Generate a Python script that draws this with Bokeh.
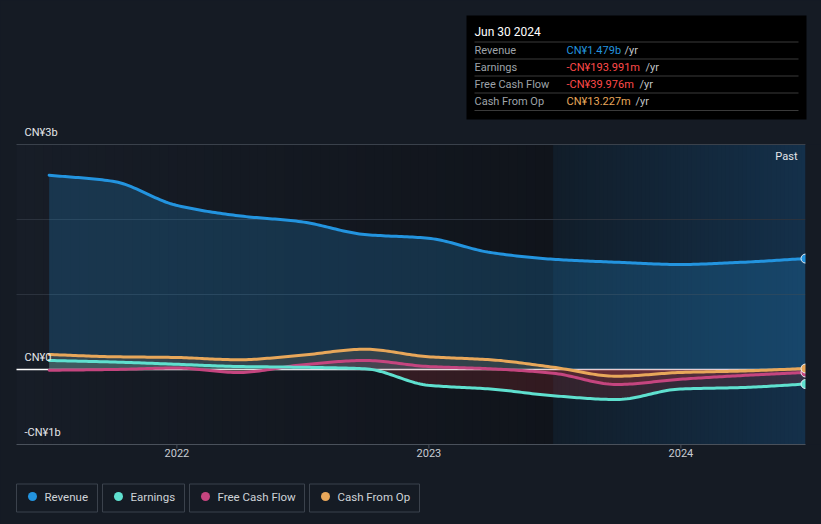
import numpy as np
import pandas as pd
from bokeh.plotting import figure
from bokeh.models import Range1d, GlobalInlineStyleSheet
from bokeh.core.properties import value
from bokeh.embed import file_html
from bokeh.resources import INLINE

# ---------------- data (CN¥ billions) ----------------
periods = ["2021-06-30", "2021-09-30", "2021-12-31", "2022-03-31", "2022-06-30", "2022-09-30",
           "2022-12-31", "2023-03-31", "2023-06-30", "2023-09-30", "2023-12-31", "2024-03-31",
           "2024-06-30"]
revenue = [2.59, 2.51, 2.19, 2.05, 1.97, 1.80, 1.75, 1.56, 1.47, 1.43, 1.40, 1.43, 1.479]
earnings = [0.12, 0.10, 0.07, 0.04, 0.03, 0.01, -0.21, -0.26, -0.35, -0.40, -0.26, -0.24, -0.194]
free_cash_flow = [-0.01, 0.0, 0.02, -0.04, 0.06, 0.12, 0.04, 0.01, -0.05, -0.20, -0.13, -0.08, -0.040]
cash_from_op = [0.20, 0.17, 0.16, 0.13, 0.19, 0.27, 0.17, 0.13, 0.03, -0.09, -0.04, -0.02, 0.013]

series_names = ["Revenue", "Earnings", "Free Cash Flow", "Cash From Op"]
series_colors = ["#2394df", "#5fe0cf", "#c5457f", "#e8a75a"]

y_tick_values = [3, 0, -1]
y_tick_labels = ["CN¥3b", "CN¥0", "-CN¥1b"]
grid_values = [1, 2]
x_tick_values = [2022, 2023, 2024]

tooltip_title = "Jun 30 2024"
tooltip_values = ["CN¥1.479b", "-CN¥193.991m", "-CN¥39.976m", "CN¥13.227m"]
tooltip_value_colors = ["#2394df", "#ff4a4a", "#ff4a4a", "#e8a75a"]
past_label = "Past"

# ---------------- helpers ----------------
dt = pd.to_datetime(periods)
xs = np.array([d.year + (d.dayofyear - 1) / (366 if d.is_leap_year else 365) for d in dt])


def smooth(x, y, n=24):
    x = np.asarray(x, float)
    y = np.asarray(y, float)
    h = np.diff(x)
    d = np.diff(y) / h
    m = np.zeros(len(x))
    m[0], m[-1] = d[0], d[-1]
    for i in range(1, len(x) - 1):
        if d[i - 1] * d[i] <= 0:
            m[i] = 0.0
        else:
            w1 = 2 * h[i] + h[i - 1]
            w2 = h[i] + 2 * h[i - 1]
            m[i] = (w1 + w2) / (w1 / d[i - 1] + w2 / d[i])
    ox, oy = [], []
    for i in range(len(x) - 1):
        t = np.linspace(0, 1, n, endpoint=False)
        h00 = 2 * t**3 - 3 * t**2 + 1
        h10 = t**3 - 2 * t**2 + t
        h01 = -2 * t**3 + 3 * t**2
        h11 = t**3 - t**2
        ox.extend(x[i] + t * h[i])
        oy.extend(h00 * y[i] + h10 * h[i] * m[i] + h01 * y[i + 1] + h11 * h[i] * m[i + 1])
    ox.append(x[-1])
    oy.append(y[-1])
    return np.array(ox), np.array(oy)


BG = "#151b24"
W, H = 821, 524
# chart region on the canvas (pixels)
CL, CR, CT, CB = 16, 805, 144, 444
YTOP, YBOT = 3.0, -1.0
XL = xs[-1] - (CR - CL) / 252.0  # data x at chart left edge
PPY = (CB - CT) / (YTOP - YBOT)


def X(px):
    return XL + (px - CL) / 252.0


def Y(py):
    return YTOP - (py - CT) / PPY


p = figure(width=W, height=H, x_range=Range1d(X(0), X(W)), y_range=Range1d(Y(H), Y(0)),
           output_backend="svg", toolbar_location=None, title=None,
           x_axis_location=None, y_axis_location=None,
           min_border=0, min_border_left=0, min_border_right=0, min_border_top=0,
           min_border_bottom=0, background_fill_color=BG, border_fill_color=BG,
           outline_line_color=None)
p.stylesheets = [GlobalInlineStyleSheet(css="html,body{background-color:#151b24;}")]
for g in p.grid:
    g.visible = False

# background gradients
past_start = xs[-5]
x_left, x_right = X(CL), X(CR)


def hexrgb(h):
    return tuple(int(h[i:i + 2], 16) for i in (1, 3, 5))


def bands(xa, xb, ca, cb, n=60):
    a, b = np.array(hexrgb(ca)), np.array(hexrgb(cb))
    edges = np.linspace(xa, xb, n + 1)
    overlap = (edges[1] - edges[0]) * 0.6
    rights = edges[1:] + overlap
    rights[-1] = xb
    cols = []
    for k in range(n):
        c = a + (b - a) * (k + 0.5) / n
        cols.append("#%02x%02x%02x" % tuple(int(round(v)) for v in c))
    p.quad(left=edges[:-1], right=rights, bottom=YBOT, top=YTOP, fill_color=cols,
           line_color=None)


bands(x_left, past_start, "#171d27", "#10141b")
bands(past_start, x_right, "#111d29", "#14304a")

# grid lines
p.segment(x0=x_left, x1=x_right, y0=grid_values, y1=grid_values, line_color="#2b323d",
          line_width=1)
p.segment(x0=[x_left], x1=[x_right], y0=[YTOP], y1=[YTOP], line_color="#3a414b", line_width=1)
# zero line
p.segment(x0=[x_left], x1=[x_right], y0=[0], y1=[0], line_color="#ffffff", line_width=1.5)

# areas and lines
all_series = [revenue, earnings, free_cash_flow, cash_from_op]
smoothed = [smooth(xs, s) for s in all_series]

sx, sy = smoothed[0]
p.varea(x=sx, y1=0, y2=sy, fill_color=series_colors[0], fill_alpha=0.22)
for (sx, sy), col in zip(smoothed[1:], series_colors[1:]):
    p.varea(x=sx, y1=0, y2=np.maximum(sy, 0), fill_color=col, fill_alpha=0.14)
    p.varea(x=sx, y1=0, y2=np.minimum(sy, 0), fill_color="#e63c3c", fill_alpha=0.16)

for (sx, sy), col in list(zip(smoothed, series_colors))[::-1]:
    p.line(sx, sy, line_color=col, line_width=3, line_join="round", line_cap="round")

for s, col in zip(all_series, series_colors):
    p.scatter([xs[-1]], [s[-1]], marker="circle", size=9, fill_color=col,
              line_color="#e8eef4", line_width=1)

# cover right of chart area (clips end markers like the reference)
p.quad(left=[x_right], right=[X(W + 2)], bottom=[YBOT], top=[YTOP], fill_color=BG, line_color=None)

# x axis (bottom line + ticks + labels)
p.segment(x0=[x_left], x1=[x_right], y0=[YBOT], y1=[YBOT], line_color="#4a515b", line_width=1.2)
p.segment(x0=x_tick_values, x1=x_tick_values, y0=YBOT, y1=Y(CB + 4), line_color="#4a515b",
          line_width=1)
p.text(x=x_tick_values, y=Y(452), text=[str(v) for v in x_tick_values], text_align="center",
       text_baseline="middle", text_font=value("Roboto"), text_font_size="11px",
       text_color="#c8ccd2")

# y labels
p.text(x=X(24), y=[Y((YTOP - v) * PPY + CT - 12) for v in y_tick_values], text=y_tick_labels,
       text_baseline="middle", text_font=value("Roboto"), text_font_size="11px",
       text_color="#e4e6e9")

p.text(x=[X(CR - 8)], y=[Y(156)], text=[past_label], text_align="right",
       text_baseline="middle", text_font=value("Roboto"), text_font_size="11px",
       text_color="#e4e6e9")

# tooltip box
p.quad(left=[X(466)], right=[X(806)], top=[Y(15)], bottom=[Y(119)], fill_color="#000000",
       line_color=None)
sep_y = [41.5, 58.5, 75.5, 92.5, 110]
p.segment(x0=X(474), x1=X(798), y0=[Y(v) for v in sep_y], y1=[Y(v) for v in sep_y],
          line_color="#3a3a3a", line_width=1)
p.text(x=[X(474)], y=[Y(31)], text=[tooltip_title], text_baseline="middle",
       text_font=value("Roboto"), text_font_size="12px", text_color="#ffffff")
row_y = [Y(v) for v in [49.5, 66.5, 84, 101]]
yr_x = [X(v) for v in [624, 645, 639, 635]]
p.text(x=X(474), y=row_y, text=series_names, text_baseline="middle", text_font=value("Roboto"),
       text_font_size="11px", text_color="#9ea3a9")
p.text(x=X(566), y=row_y, text=tooltip_values, text_baseline="middle", text_font=value("Roboto"),
       text_font_size="11px", text_color=tooltip_value_colors)
p.text(x=yr_x, y=row_y, text=["/yr"] * 4, text_baseline="middle", text_font=value("Roboto"),
       text_font_size="11px", text_color="#c0c4c8")

# legend (boxes drawn below the chart)
box_l = [16, 102, 189, 309]
box_r = [97, 184, 304, 419]
p.quad(left=[X(v) for v in box_l], right=[X(v) for v in box_r], top=Y(483.5), bottom=Y(511.5),
       fill_color=BG, line_color="#3b424c", line_width=1)
p.scatter(x=[X(v + 16) for v in box_l], y=Y(496), marker="circle", size=9,
          fill_color=series_colors, line_color=None)
p.text(x=[X(v + 28) for v in box_l], y=Y(496), text=series_names, text_baseline="middle",
       text_font=value("Roboto"), text_font_size="11.5px", text_color="#cfd3d8")

open("out.html", "w").write(file_html(p, INLINE))
